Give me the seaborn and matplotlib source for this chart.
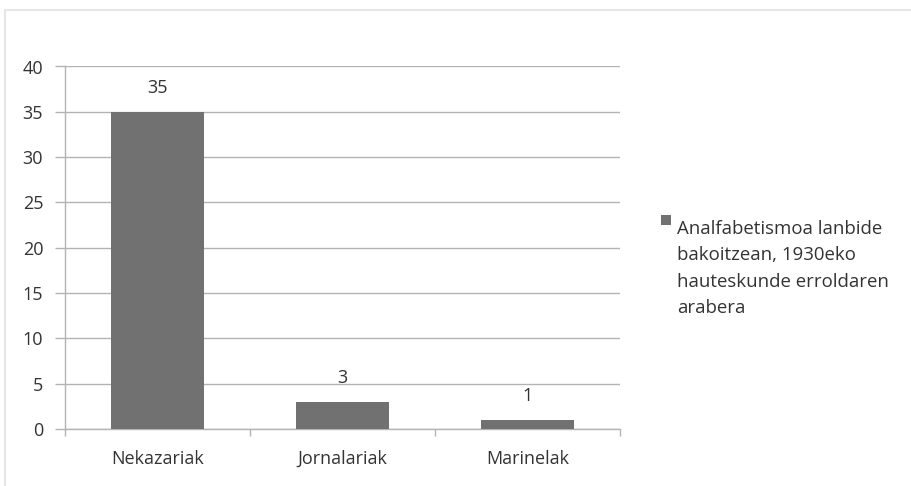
import matplotlib
matplotlib.use("Agg")
import matplotlib.pyplot as plt
import seaborn as sns
import pandas as pd
from matplotlib.patches import Rectangle

categories = ["Nekazariak", "Jornalariak", "Marinelak"]
values = [35, 3, 1]
series_name = "Analfabetismoa lanbide\nbakoitzean, 1930eko\nhauteskunde erroldaren\narabera"
yticks = [0, 5, 10, 15, 20, 25, 30, 35, 40]

sns.set_theme(style="white")
plt.rcParams['font.family'] = ['Open Sans', 'DejaVu Sans']

df = pd.DataFrame({"cat": categories, "val": values})

fig = plt.figure(figsize=(9.11, 4.86), dpi=100)
# faint screenshot frame
fig.patches.append(Rectangle((5/911, -0.1), 1.2, (486-10)/486 + 0.1, transform=fig.transFigure,
                             facecolor="none", edgecolor="#e6e6e6", linewidth=1.5, zorder=-1))
L, R, T, B = 64.7, 620.0, 66.5, 429.0
ax = fig.add_axes([L/911, 1-B/486, (R-L)/911, (B-T)/486])
ax.set_facecolor("none")

bar_color = "#717171"
text_color = "#333333"
sns.barplot(data=df, x="cat", y="val", color=bar_color, width=0.5, ax=ax,
            saturation=1, zorder=3, edgecolor="none")

ax.set_xlim(-0.5, 2.5)
ax.set_ylim(0, 40)
ax.set_yticks(yticks)
ax.yaxis.grid(True, color="#b3b3b3", linewidth=1.0, zorder=0)
ax.set_axisbelow(True)
ax.set_xlabel("")
ax.set_ylabel("")

for s in ["top", "right"]:
    ax.spines[s].set_visible(False)
for s in ["left", "bottom"]:
    ax.spines[s].set_color("#b3b3b3")
    ax.spines[s].set_linewidth(1.0)

fs = 13
ax.tick_params(axis="y", which="major", length=7, width=1, color="#b3b3b3",
               labelsize=fs, labelcolor=text_color, pad=8.5, left=True)
ax.set_xticks([0, 1, 2])
ax.set_xticks([-0.5, 0.5, 1.5, 2.5], minor=True)
ax.tick_params(axis="x", which="major", length=0, labelsize=fs, labelcolor=text_color, pad=15)
ax.tick_params(axis="x", which="minor", length=5, width=1, color="#b3b3b3", bottom=True)

for i, v in enumerate(values):
    ax.annotate(str(v), (i, v), xytext=(0, 17), textcoords="offset points",
                ha="center", va="center", fontsize=fs, color=text_color)

# legend drawn as a key square plus multi-line label
fig.patches.append(Rectangle((661/911, 1-225/486), 10/911, 10/486, transform=fig.transFigure,
                             facecolor=bar_color, edgecolor="none"))
fig.text(677/911, 1-313/486, series_name, ha="left", va="baseline", fontsize=13.4,
         color=text_color, linespacing=1.6)

fig.savefig("out.png", dpi=100)
